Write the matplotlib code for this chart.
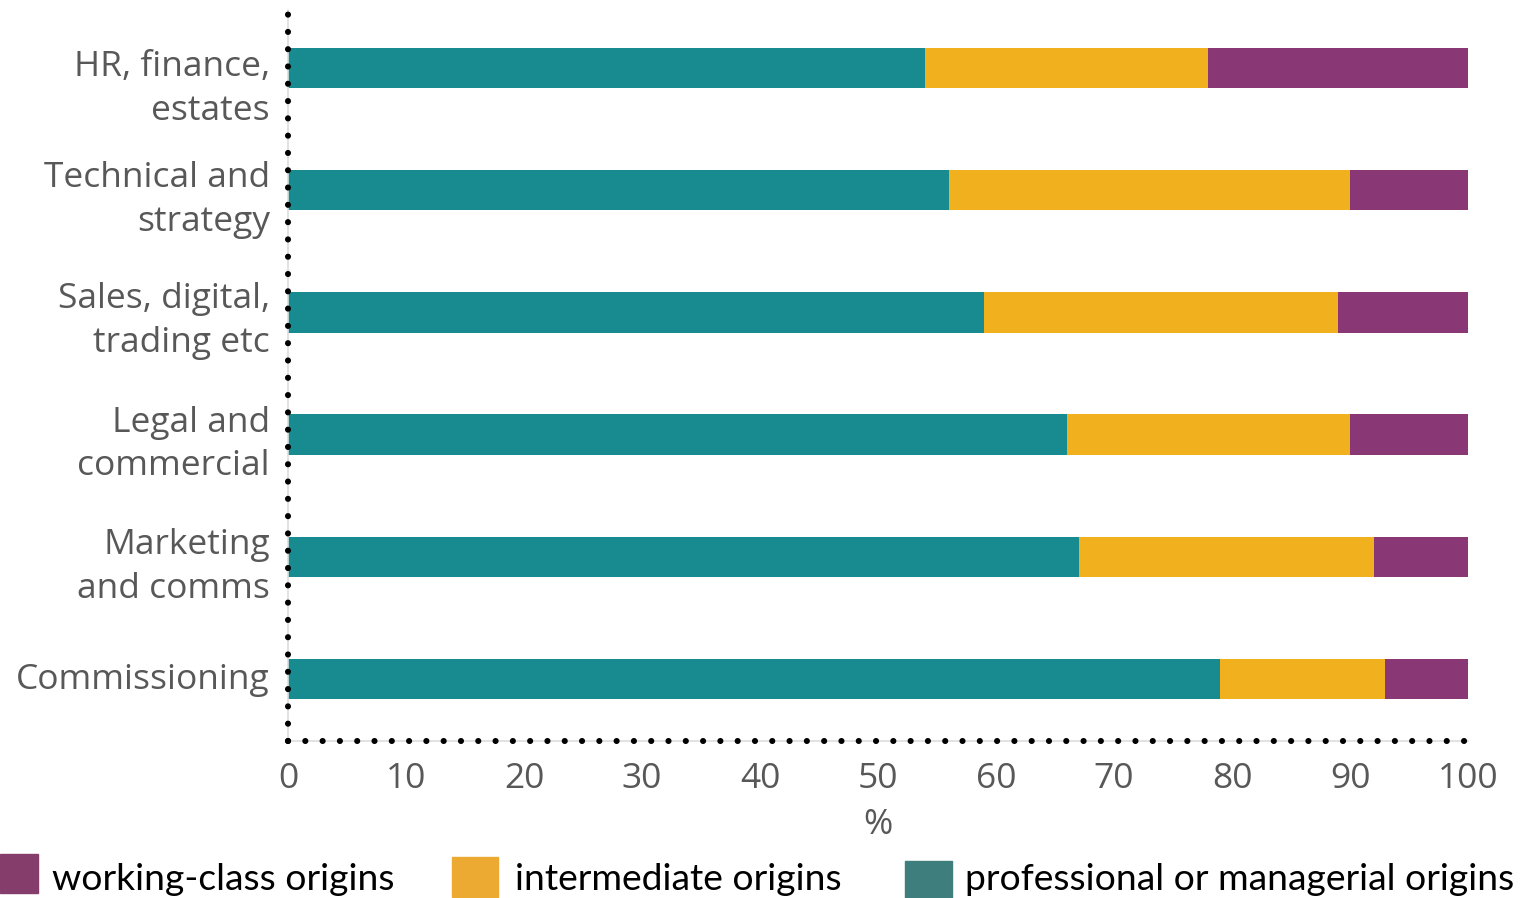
import matplotlib
matplotlib.use("Agg")
import matplotlib.pyplot as plt
from matplotlib.patches import Rectangle
from matplotlib.transforms import ScaledTranslation
import numpy as np

# Occupational groups (top to bottom) and share of staff by class origin (%)
categories = ["HR, finance,\nestates", "Technical and\nstrategy", "Sales, digital,\ntrading etc",
              "Legal and\ncommercial", "Marketing\nand comms", "Commissioning"]
professional = [54, 56, 59, 66, 67, 79]
intermediate = [24, 34, 30, 24, 25, 14]
working_class = [22, 10, 11, 10, 8, 7]

series_names = ["working-class origins", "intermediate origins", "professional or managerial origins"]
bar_colors = {"professional": "#178B8F", "intermediate": "#F1B11E", "working": "#8A3775"}
legend_colors = ["#853D6B", "#EDAA32", "#3E7E7D"]
xticks = [0, 10, 20, 30, 40, 50, 60, 70, 80, 90, 100]

W, H = 1526, 898
fig = plt.figure(figsize=(W / 100, H / 100), dpi=100)
ax = fig.add_axes([288 / W, 1 - 741 / H, (1468 - 288) / W, (741 - 10) / H])

label_font = "Open Sans"
grey = "#585858"

y = np.arange(len(categories))[::-1].astype(float)
h = 0.33
prof = np.array(professional)
inter = np.array(intermediate)
work = np.array(working_class)
ax.barh(y, prof, height=h, color=bar_colors["professional"], edgecolor="none")
ax.barh(y, inter, left=prof, height=h, color=bar_colors["intermediate"], edgecolor="none")
ax.barh(y, work, left=prof + inter, height=h, color=bar_colors["working"], edgecolor="none")

ax.set_xlim(0, 100)
ax.set_ylim(-0.508, 5.475)

ax.set_yticks(y)
ax.set_yticklabels(categories, fontsize=25.5, color=grey, family=label_font,
                   linespacing=1.38, ha="right")
ax.set_xticks(xticks)
ax.set_xticklabels([str(t) for t in xticks], fontsize=25.5, color=grey, family=label_font)
ax.tick_params(axis="both", length=0)
ax.tick_params(axis="y", pad=13)
ax.tick_params(axis="x", pad=15)
ax.set_xlabel("%", fontsize=25.5, color=grey, family=label_font, labelpad=9)

# nudge category labels a little below their bars (pixels, top to bottom)
label_drop = [12, 1, 0, 1, 1, -3]
for lbl, d in zip(ax.get_yticklabels(), label_drop):
    lbl.set_transform(lbl.get_transform() + ScaledTranslation(0, -d / 100, fig.dpi_scale_trans))

for s in ["top", "right"]:
    ax.spines[s].set_visible(False)
for s in ["left", "bottom"]:
    ax.spines[s].set_color("#DDDDDD")
    ax.spines[s].set_linewidth(1.2)

# dotted axis lines drawn over the light spines
dot_style = dict(color="black", linewidth=4.4, linestyle=(0, (0.01, 2.82)),
                 dash_capstyle="round", transform=ax.transAxes, clip_on=False, zorder=5)
ax.plot([0, 0], [0, 1], **dot_style)
ax.plot([0, 1.001], [0, 0], **dot_style)

# legend row along the bottom edge
legend_items = [
    (series_names[0], legend_colors[0], 0, 854, 38, 39, 52),
    (series_names[1], legend_colors[1], 452, 857, 46, 40, 515),
    (series_names[2], legend_colors[2], 905, 861, 47, 37, 965),
]
for name, col, x0, y0, w, hh, tx in legend_items:
    fig.patches.append(Rectangle((x0 / W, 1 - (y0 + hh) / H), w / W, hh / H,
                                 transform=fig.transFigure, color=col))
    fig.text(tx / W, 1 - 879 / H, name, fontsize=26.8, color="black",
             family="Lato", va="center", ha="left")

fig.savefig("out.png", dpi=100)
